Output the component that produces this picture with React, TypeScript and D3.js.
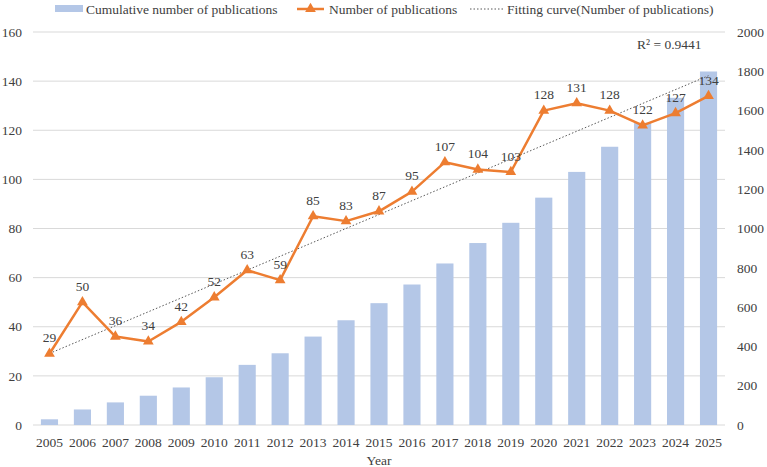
import React from "react";
import * as d3 from "d3";

const years = ["2005","2006","2007","2008","2009","2010","2011","2012","2013","2014","2015","2016","2017","2018","2019","2020","2021","2022","2023","2024","2025"];
const publications = [29,50,36,34,42,52,63,59,85,83,87,95,107,104,103,128,131,128,122,127,134];
const cumulative = [29,79,115,149,191,243,306,365,450,533,620,715,822,926,1029,1157,1288,1416,1538,1665,1799];
const leftTicks = [0,20,40,60,80,100,120,140,160];
const rightTicks = [0,200,400,600,800,1000,1200,1400,1600,1800,2000];
const rSquared = "R² = 0.9441";

const W = 767, H = 467;
const FONT = "'Liberation Serif', 'Times New Roman', serif";
const FS = 13.5;

export default function App() {
  const x = d3.scaleBand<string>().domain(years).range([33, 725]).paddingInner(0.48).paddingOuter(0.24);
  const yL = d3.scaleLinear().domain([0, 160]).range([425, 32]);
  const yR = d3.scaleLinear().domain([0, 2000]).range([425, 32]);
  const cx = (y: string) => (x(y) ?? 0) + x.bandwidth() / 2;

  // linear trend fit
  const n = publications.length;
  const xs = publications.map((_, i) => i + 1);
  const mx = d3.mean(xs)!;
  const my = d3.mean(publications)!;
  const sxy = d3.sum(xs.map((v, i) => (v - mx) * (publications[i] - my)));
  const sxx = d3.sum(xs.map(v => (v - mx) ** 2));
  const slope = sxy / sxx;
  const icpt = my - slope * mx;
  const t0 = icpt + slope * 1;
  const t1 = icpt + slope * n;

  const line = d3.line<number>().x((_, i) => cx(years[i])).y(d => yL(d));
  const tri = d3.symbol().type(d3.symbolTriangle).size(50)();

  return (
    <svg width={W} height={H} style={{ position: "absolute", left: 0, top: 0, background: "#fff" }} fontFamily={FONT}>
      <rect width={W} height={H} fill="#fff" />
      {leftTicks.map(t => (
        <line key={t} x1={33} x2={725} y1={yL(t)} y2={yL(t)} stroke="#d9d9d9" strokeWidth={1} />
      ))}
      {leftTicks.map(t => (
        <text key={t} x={22} y={yL(t)} dy="0.35em" textAnchor="end" fontSize={FS} fill="#404040">{t}</text>
      ))}
      {rightTicks.map(t => (
        <text key={t} x={737} y={yR(t)} dy="0.35em" textAnchor="start" fontSize={FS} fill="#404040">{t}</text>
      ))}
      {cumulative.map((v, i) => (
        <rect key={i} x={x(years[i])} y={yR(v)} width={x.bandwidth()} height={yR(0) - yR(v)} fill="#b4c7e7" />
      ))}
      {years.map(y => (
        <text key={y} x={cx(y)} y={442} dy="0.35em" textAnchor="middle" fontSize={FS} fill="#404040">{y}</text>
      ))}
      <text x={379} y={460} dy="0.35em" textAnchor="middle" fontSize={FS} fill="#404040">Year</text>
      <line x1={cx(years[0])} y1={yL(t0)} x2={cx(years[n - 1])} y2={yL(t1)} stroke="#595959" strokeWidth={1} strokeDasharray="1.5,2" />
      <path d={line(publications) ?? ""} fill="none" stroke="#ed7d31" strokeWidth={2.5} strokeLinejoin="round" />
      {publications.map((v, i) => (
        <path key={i} d={tri ?? ""} transform={`translate(${cx(years[i])},${yL(v)})`} fill="#ed7d31" />
      ))}
      {publications.map((v, i) => (
        <text key={i} x={cx(years[i])} y={yL(v) - 16} dy="0.35em" textAnchor="middle" fontSize={FS} fill="#404040">{v}</text>
      ))}
      <text x={637} y={44} dy="0.35em" fontSize={FS} fill="#404040">{rSquared}</text>
      <rect x={55} y={5} width={28} height={7} fill="#b4c7e7" />
      <text x={86} y={9} dy="0.35em" fontSize={FS} fill="#404040">Cumulative number of publications</text>
      <line x1={297} x2={324} y1={9} y2={9} stroke="#ed7d31" strokeWidth={2.5} />
      <path d={tri ?? ""} transform="translate(310.5,9)" fill="#ed7d31" />
      <text x={329} y={9} dy="0.35em" fontSize={FS} fill="#404040">Number of publications</text>
      <line x1={470} x2={503} y1={9} y2={9} stroke="#595959" strokeWidth={1} strokeDasharray="1.5,2" />
      <text x={507} y={9} dy="0.35em" fontSize={FS} fill="#404040">Fitting curve(Number of publications)</text>
    </svg>
  );
}
